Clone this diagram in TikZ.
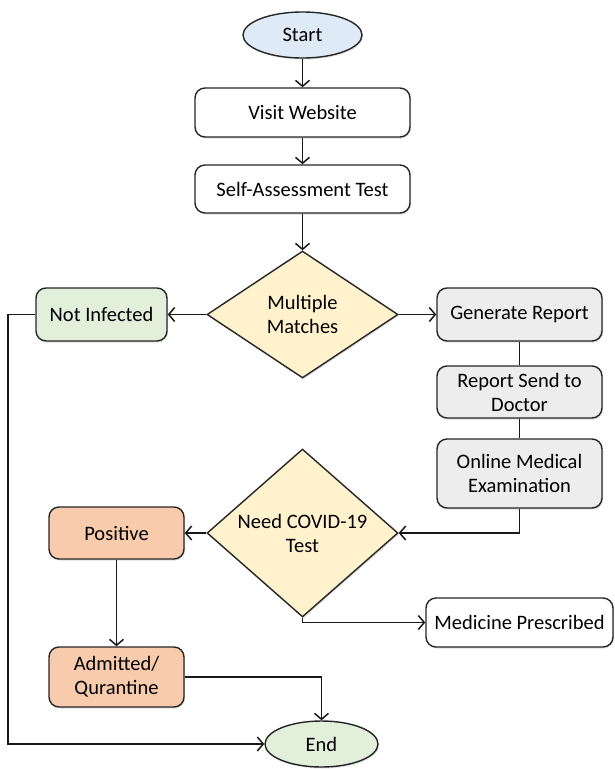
\documentclass[tikz,border=0pt]{standalone}
\usepackage{fontspec}
\setmainfont{Carlito}
\usetikzlibrary{shapes.geometric,arrows.meta,shadows}
\definecolor{cblue}{HTML}{DEEBF7}
\definecolor{cgreen}{HTML}{E2EFDA}
\definecolor{cyellow}{HTML}{FFF2CC}
\definecolor{cgray}{HTML}{EDEDED}
\definecolor{corange}{HTML}{F8CBAD}
\tikzset{
  base/.style={draw=black!85, line width=1.4pt, align=center, inner sep=0pt,
    font=\fontsize{20.5pt}{24pt}\selectfont,
    drop shadow={shadow xshift=1pt, shadow yshift=-1.5pt, opacity=0.18, fill=black!70}},
  rbox/.style={base, rectangle, rounded corners=10pt},
  oval/.style={base, ellipse},
  decision/.style={base, diamond, fill=cyellow},
  conn/.style={line width=1.6pt, draw=black!90},
  arr/.style={conn, -{Straight Barb[length=6pt,width=14pt,line width=1.5pt]}}
}
\begin{document}
\begin{tikzpicture}[x=1pt,y=-1pt]
\useasboundingbox[fill=white] (0,0) rectangle (615,769);
\node[oval, fill=cblue, minimum width=119pt, minimum height=46pt] (start) at (302.5,35) {Start};
\node[rbox, fill=white, minimum width=215pt, minimum height=49pt] (visit) at (302.5,112.5) {Visit Website};
\node[rbox, fill=white, minimum width=215pt, minimum height=48pt] (self) at (302.5,189) {Self-Assessment Test};
\node[decision, minimum width=191pt, minimum height=127pt] (mm) at (302.5,314.5) {Multiple\\Matches};
\node[rbox, fill=cgreen, minimum width=131pt, minimum height=53pt] (notinf) at (101.5,314.5) {Not Infected};
\node[rbox, fill=cgray, minimum width=165pt, minimum height=53pt] (gen) at (519.5,314.5) {Generate Report};
\node[rbox, fill=cgray, minimum width=165pt, minimum height=52pt] (send) at (519.5,392) {Report Send to\\Doctor};
\node[rbox, fill=cgray, minimum width=165pt, minimum height=69pt] (online) at (519.5,473.5) {Online Medical\\Examination};
\node[decision, minimum width=191pt, minimum height=128pt] (covid) at (302.5,533) {Need COVID-19\\Test};
\node[rbox, fill=corange, minimum width=135pt, minimum height=52pt] (pos) at (116.5,533) {Positive};
\node[rbox, fill=corange, minimum width=135pt, minimum height=60pt] (adm) at (116.5,677) {Admitted/\\Qurantine};
\node[rbox, fill=white, minimum width=187pt, minimum height=49pt] (med) at (519.5,622.5) {Medicine Prescribed};
\node[oval, fill=cgreen, minimum width=113pt, minimum height=46pt] (endn) at (321.5,744) {End};
\coordinate (lft) at (8,0);
\draw[arr] (start) -- (visit);
\draw[arr] (visit) -- (self);
\draw[arr] (self) -- (mm.north);
\draw[arr] (mm.west) -- (notinf.east);
\draw[arr] (mm.east) -- (gen.west);
\draw[conn] (gen) -- (send);
\draw[conn] (send) -- (online);
\draw[arr] (online.south) |- (covid.east);
\draw[arr] (covid.west) -- (pos.east);
\draw[arr] (covid.south) |- (med.west);
\draw[arr] (pos) -- (adm);
\draw[arr] (adm.east) -| (endn.north);
\draw[arr] (notinf.west) -- (notinf.west -| lft) |- (endn.west);
\end{tikzpicture}
\end{document}
